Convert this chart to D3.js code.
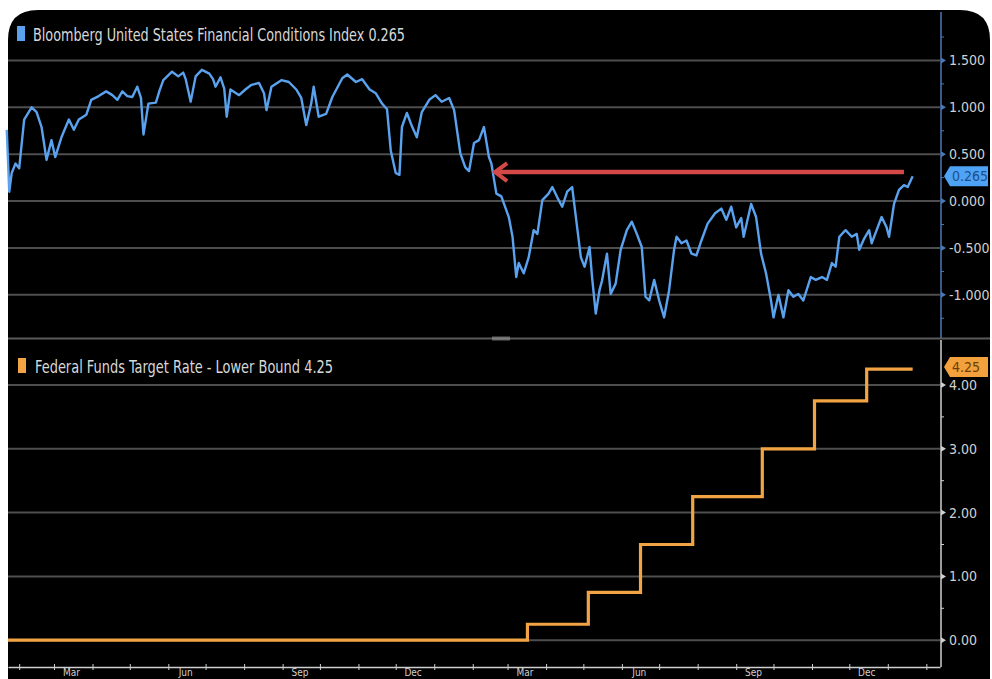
<!DOCTYPE html>
<html>
<head>
<meta charset="utf-8">
<script src="https://cdn.jsdelivr.net/npm/d3@7"></script>
<style>
  html, body { margin: 0; padding: 0; background: #fff; }
  svg { display: block; }
  text { font-family: "Liberation Sans Narrow", "DejaVu Sans Condensed", "Arial Narrow", sans-serif; }
</style>
</head>
<body>
<svg id="chart" width="992" height="679"></svg>
<script>
// ---------------- DATA ----------------
const fciDates = [
  "2021-01-22","2021-01-24","2021-01-26","2021-01-29","2021-02-01","2021-02-05","2021-02-11","2021-02-15","2021-02-19","2021-02-23",
  "2021-02-27","2021-03-02","2021-03-07","2021-03-13","2021-03-17","2021-03-21","2021-03-27","2021-03-31","2021-04-06","2021-04-12",
  "2021-04-17","2021-04-21","2021-04-25","2021-04-29","2021-05-03","2021-05-07","2021-05-10","2021-05-12","2021-05-16","2021-05-22",
  "2021-05-25","2021-05-28","2021-06-04","2021-06-09","2021-06-13","2021-06-15","2021-06-19","2021-06-23","2021-06-28","2021-07-04",
  "2021-07-07","2021-07-09","2021-07-13","2021-07-16","2021-07-18","2021-07-21","2021-07-28","2021-08-02","2021-08-07","2021-08-13",
  "2021-08-17","2021-08-19","2021-08-23","2021-08-31","2021-09-06","2021-09-12","2021-09-16","2021-09-20","2021-09-24","2021-09-26",
  "2021-09-30","2021-10-06","2021-10-11","2021-10-19","2021-10-23","2021-10-30","2021-11-04","2021-11-10","2021-11-15","2021-11-20",
  "2021-11-24","2021-11-27","2021-12-01","2021-12-04","2021-12-06","2021-12-10","2021-12-14","2021-12-18","2021-12-22","2021-12-28",
  "2022-01-02","2022-01-07","2022-01-13","2022-01-17","2022-01-22","2022-01-26","2022-01-29","2022-02-02","2022-02-06","2022-02-10",
  "2022-02-14","2022-02-16","2022-02-20","2022-02-24","2022-03-02","2022-03-05","2022-03-08","2022-03-10","2022-03-14","2022-03-18",
  "2022-03-22","2022-03-25","2022-03-29","2022-04-03","2022-04-06","2022-04-10","2022-04-14","2022-04-18","2022-04-22","2022-04-26",
  "2022-04-29","2022-05-02","2022-05-06","2022-05-08","2022-05-11","2022-05-14","2022-05-16","2022-05-20","2022-05-23","2022-05-27",
  "2022-05-31","2022-06-05","2022-06-09","2022-06-13","2022-06-17","2022-06-20","2022-06-23","2022-06-27","2022-07-01","2022-07-05",
  "2022-07-09","2022-07-13","2022-07-15","2022-07-19","2022-07-23","2022-07-27","2022-07-31","2022-08-04","2022-08-09","2022-08-15",
  "2022-08-20","2022-08-24","2022-08-28","2022-09-01","2022-09-05","2022-09-07","2022-09-13","2022-09-17","2022-09-21","2022-09-25",
  "2022-09-29","2022-10-01","2022-10-05","2022-10-09","2022-10-13","2022-10-17","2022-10-21","2022-10-25","2022-10-31","2022-11-04",
  "2022-11-09","2022-11-13","2022-11-17","2022-11-20","2022-11-23","2022-11-28","2022-12-03","2022-12-07","2022-12-09","2022-12-13",
  "2022-12-17","2022-12-19","2022-12-23","2022-12-27","2022-12-31","2023-01-02","2023-01-06","2023-01-10","2023-01-14","2023-01-17",
  "2023-01-21"
];
const fciValues = [
  0.76,0.10,0.30,0.40,0.35,0.87,1.00,0.95,0.79,0.44,
  0.65,0.47,0.68,0.87,0.76,0.87,0.92,1.08,1.12,1.17,
  1.13,1.08,1.17,1.12,1.11,1.22,1.10,0.71,1.04,1.05,
  1.18,1.29,1.38,1.33,1.37,1.30,1.06,1.33,1.40,1.36,
  1.30,1.22,1.32,1.20,0.90,1.19,1.13,1.19,1.24,1.26,
  1.15,0.97,1.22,1.29,1.27,1.19,1.10,0.81,1.04,1.22,
  0.90,0.93,1.11,1.31,1.35,1.27,1.30,1.19,1.15,1.04,
  0.98,0.54,0.30,0.28,0.79,0.94,0.80,0.68,0.95,1.08,
  1.13,1.06,1.10,0.97,0.51,0.36,0.32,0.62,0.65,0.79,
  0.47,0.40,0.08,0.05,-0.17,-0.38,-0.81,-0.66,-0.77,-0.60,
  -0.31,-0.35,0.01,0.08,0.15,0.04,-0.06,0.10,0.15,-0.28,
  -0.60,-0.70,-0.49,-0.81,-1.20,-0.95,-0.85,-0.56,-0.99,-0.88,
  -0.52,-0.31,-0.22,-0.35,-0.49,-1.02,-1.06,-0.84,-1.06,-1.24,
  -0.95,-0.52,-0.38,-0.45,-0.42,-0.56,-0.58,-0.42,-0.24,-0.13,
  -0.08,-0.20,-0.06,-0.28,-0.18,-0.38,-0.03,-0.17,-0.56,-0.77,
  -1.06,-1.24,-1.00,-1.24,-0.95,-1.02,-0.99,-1.06,-0.81,-0.84,
  -0.81,-0.84,-0.66,-0.70,-0.38,-0.31,-0.38,-0.35,-0.52,-0.40,
  -0.31,-0.45,-0.31,-0.17,-0.28,-0.38,-0.03,0.12,0.17,0.15,
  0.265
];
const fedDates  = ["2021-01-23","2022-03-17","2022-05-05","2022-06-16","2022-07-28","2022-09-22","2022-11-03","2022-12-15","2023-01-21"];
const fedValues = [0.00, 0.25, 0.75, 1.50, 2.25, 3.00, 3.75, 4.25, 4.25];

const fciTicks = [1.5, 1.0, 0.5, 0.0, -0.5, -1.0];
const fciMinorTicks = [1.75, 1.25, 0.75, 0.25, -0.25, -0.75, -1.25];
const fedTicks = [4, 3, 2, 1, 0];
const fedMinorTicks = [3.5, 2.5, 1.5, 0.5, -0.5];
const monthLabelDates = ["2021-03-15","2021-06-15","2021-09-15","2021-12-15","2022-03-15","2022-06-15","2022-09-15","2022-12-15"];
const monthLabels = ["Mar","Jun","Sep","Dec","Mar","Jun","Sep","Dec"];
const fciTitle = "Bloomberg United States Financial Conditions Index 0.265";
const fedTitle = "Federal Funds Target Rate - Lower Bound 4.25";
const fciLast = "0.265";
const fedLast = "4.25";
const arrowFrom = { date: "2023-01-14", value: 0.31 };
const arrowTo   = { date: "2022-02-19", value: 0.31 };

// ---------------- SCALES ----------------
const parse = d3.timeParse("%Y-%m-%d");
const W = 992, H = 679;
const svg = d3.select("#chart");

const x = d3.scaleTime()
  .domain([parse("2021-01-23"), parse("2023-02-12")])
  .range([8, 940]);
const yTop = d3.scaleLinear().domain([-1.46, 1.91]).range([338, 22]);
const yBot = d3.scaleLinear().domain([-0.42, 4.705]).range([667, 340]);

const BLUE = "#5aa2ee", ORANGE = "#f2a444", GRID = "#4e4e4e", TXT = "#d0d0d0";

// ---------------- BACKGROUND ----------------
svg.append("rect").attr("width", W).attr("height", H).attr("fill", "#fff");
const r = 30, L = 8, T = 10, R = 990, B = H + 20;
svg.append("path")
  .attr("d", `M${L},${B} L${L},${T + r} Q${L},${T} ${L + r},${T} L${R - r},${T} Q${R},${T} ${R},${T + r} L${R},${B} Z`)
  .attr("fill", "#000");

// ---------------- GRIDLINES ----------------
svg.append("g").selectAll("line").data(fciTicks).join("line")
  .attr("x1", 8).attr("x2", 940)
  .attr("y1", d => yTop(d)).attr("y2", d => yTop(d))
  .attr("stroke", GRID).attr("stroke-width", 2);

svg.append("g").selectAll("line").data(fedTicks).join("line")
  .attr("x1", 8).attr("x2", 940)
  .attr("y1", d => yBot(d)).attr("y2", d => yBot(d))
  .attr("stroke", GRID).attr("stroke-width", 2);

// panel separator
svg.append("line").attr("x1", 8).attr("x2", 990).attr("y1", 338.5).attr("y2", 338.5)
  .attr("stroke", "#5a5a5a").attr("stroke-width", 2);
svg.append("rect").attr("x", 492).attr("y", 336.5).attr("width", 18).attr("height", 4)
  .attr("fill", "#8a8a8a").attr("opacity", 0.7);

// ---------------- LINES ----------------
const fciData = fciDates.map((d, i) => ({ date: parse(d), value: fciValues[i] }));
const fedData = fedDates.map((d, i) => ({ date: parse(d), value: fedValues[i] }));

svg.append("path").datum(fciData)
  .attr("fill", "none").attr("stroke", BLUE).attr("stroke-width", 2.4)
  .attr("stroke-linejoin", "round")
  .attr("d", d3.line().x(d => x(d.date)).y(d => yTop(d.value)));

svg.append("path").datum(fedData)
  .attr("fill", "none").attr("stroke", ORANGE).attr("stroke-width", 3.2)
  .attr("d", d3.line().x(d => x(d.date)).y(d => yBot(d.value)).curve(d3.curveStepAfter));

// red arrow
const ax1 = x(parse(arrowFrom.date)), ay = yTop(arrowFrom.value), ax2 = x(parse(arrowTo.date));
const RED = "#d44848";
svg.append("line").attr("x1", ax1).attr("x2", ax2 + 2).attr("y1", ay).attr("y2", ay)
  .attr("stroke", RED).attr("stroke-width", 4.5);
svg.append("path")
  .attr("d", `M${ax2 + 12},${ay - 9} L${ax2},${ay} L${ax2 + 12},${ay + 9}`)
  .attr("fill", "none").attr("stroke", RED).attr("stroke-width", 4).attr("stroke-linejoin", "miter");

// ---------------- RIGHT AXES ----------------
function rightAxis(scale, ticks, minor, fmt, y0, y1, color) {
  const g = svg.append("g");
  g.append("line").attr("x1", 941).attr("x2", 941).attr("y1", y0).attr("y2", y1)
    .attr("stroke", color).attr("stroke-width", 1.5);
  g.selectAll("path.tri").data(ticks).join("path")
    .attr("d", d => `M941,${scale(d) - 3} L946,${scale(d)} L941,${scale(d) + 3} Z`)
    .attr("fill", color);
  g.selectAll("line.minor").data(minor.filter(d => scale(d) > y0 && scale(d) < y1)).join("line")
    .attr("x1", 941).attr("x2", 944).attr("y1", d => scale(d)).attr("y2", d => scale(d))
    .attr("stroke", color).attr("stroke-width", 1);
  g.selectAll("text").data(ticks).join("text")
    .attr("x", 949).attr("y", d => scale(d)).attr("dy", "0.36em")
    .attr("fill", TXT).attr("font-size", 14)
    .text(fmt);
}
rightAxis(yTop, fciTicks, fciMinorTicks, d => d.toFixed(3), 12, 338, "#4b78b8");
rightAxis(yBot, fedTicks, fedMinorTicks, d => d.toFixed(2), 340, 667, "#cfcfcf");

// last value tags
function tag(yv, label, fill, textColor) {
  const h = 20, x0 = 944, w = 44;
  svg.append("path")
    .attr("d", `M${x0},${yv} L${x0 + 6},${yv - h / 2} L${x0 + w},${yv - h / 2} L${x0 + w},${yv + h / 2} L${x0 + 6},${yv + h / 2} Z`)
    .attr("fill", fill);
  svg.append("text").attr("x", x0 + 8).attr("y", yv).attr("dy", "0.36em")
    .attr("fill", textColor).attr("font-size", 14).text(label);
}
tag(yTop(+fciLast), fciLast, "#4fa3f7", "#1d4f86");
tag(yBot(+fedLast) - 2, fedLast, "#f2a13c", "#6a3f05");

// ---------------- X AXIS ----------------
const xAxis = d3.axisBottom(x)
  .ticks(d3.timeMonth.every(1))
  .tickSize(4)
  .tickSizeOuter(0)
  .tickFormat("");
const gx = svg.append("g").attr("transform", "translate(0,667)").call(xAxis);
gx.select(".domain").attr("stroke", "#cfcfcf").attr("stroke-width", 1.5);
gx.selectAll(".tick line").attr("stroke", "#cfcfcf").attr("y1", -3).attr("y2", 3);
svg.selectAll("text.mlab").data(monthLabels).join("text")
  .attr("class", "mlab")
  .attr("x", (d, i) => x(parse(monthLabelDates[i])))
  .attr("y", 676)
  .attr("text-anchor", "middle")
  .attr("fill", TXT).attr("font-size", 10)
  .text(d => d);

// ---------------- LEGENDS ----------------
function legend(sx, sy, tx, ty, len, color, label) {
  svg.append("rect").attr("x", sx).attr("y", sy).attr("width", 8).attr("height", 15).attr("fill", color);
  svg.append("text").attr("x", tx).attr("y", ty).attr("fill", "#d8d8d8").attr("font-size", 17)
    .attr("textLength", len).attr("lengthAdjust", "spacingAndGlyphs").text(label);
}
legend(17, 26, 33, 41, 372, BLUE, fciTitle);
legend(18, 358, 35, 373, 298, ORANGE, fedTitle);
</script>
</body>
</html>
